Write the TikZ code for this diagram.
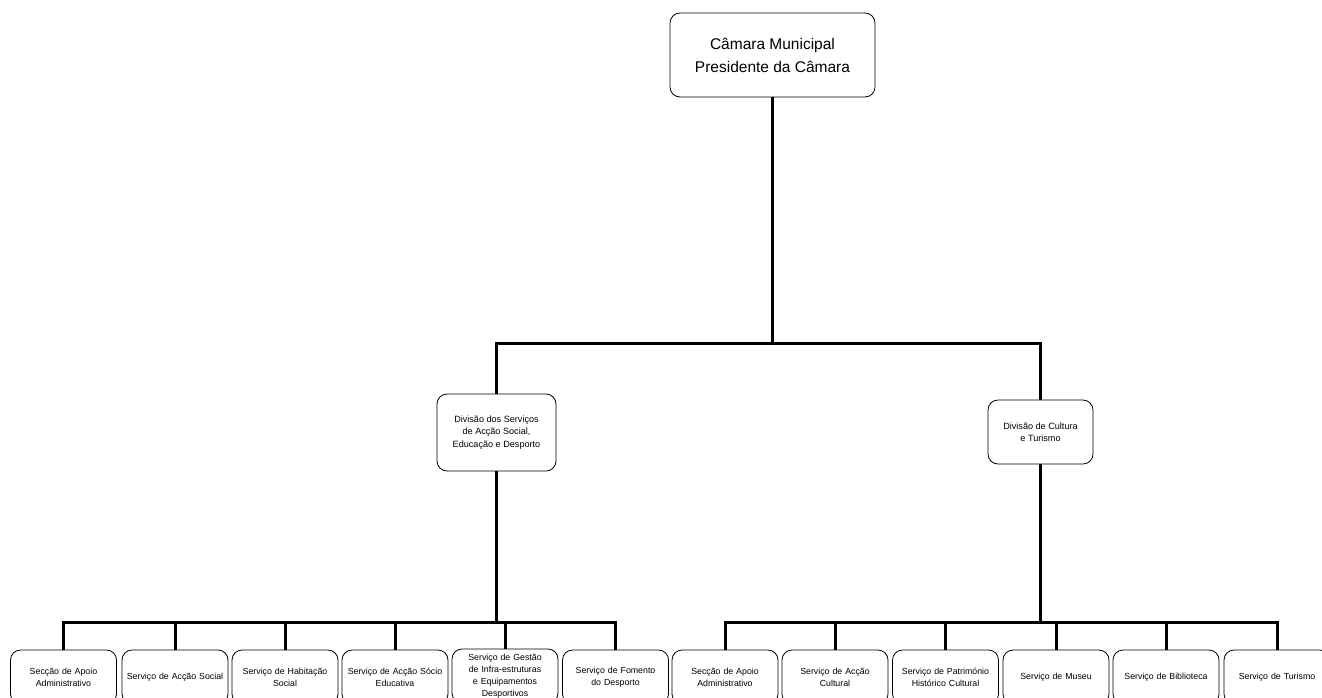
\documentclass[tikz,border=0pt]{standalone}
\usepackage{fontspec}
\setmainfont{Liberation Sans}
\begin{document}
\begin{tikzpicture}[x=1pt,y=-1pt,
  box/.style={draw=black, line width=0.8pt, rounded corners=10pt, align=center, inner sep=2pt},
  topbox/.style={box, minimum width=205pt, minimum height=84pt, font=\fontsize{15.5}{23}\selectfont},
  divbox/.style={box, font=\fontsize{9.1}{12.5}\selectfont},
  leaf/.style={box, minimum width=106pt, minimum height=54pt, text width=102pt, font=\fontsize{8.8}{12}\selectfont},
  conn/.style={draw=black, line width=3pt}]
\useasboundingbox (0,0) rectangle (1322,697);
\clip (0,0) rectangle (1322,697);

\node[topbox] (top) at (772.5,55) {Câmara Municipal\\Presidente da Câmara};
\node[divbox, minimum width=119pt, minimum height=77pt] (d1) at (496.5,432.5) {Divisão dos Serviços\\de Acção Social,\\Educação e Desporto};
\node[divbox, minimum width=105pt, minimum height=64pt] (d2) at (1040.5,432) {Divisão de Cultura\\e Turismo};

\coordinate (bus0) at (772.5,343);
\coordinate (busL) at (496.5,622);
\coordinate (busR) at (1040.5,622);

\node[leaf] (c1) at (63.5,677) {Secção de Apoio\\Administrativo};
\node[leaf] (c2) at (175,677) {Serviço de Acção Social};
\node[leaf] (c3) at (285,677) {Serviço de Habitação\\Social};
\node[leaf] (c4) at (395,677) {Serviço de Acção Sócio\\Educativa};
\node[leaf] (c5) at (505,676) {Serviço de Gestão\\de Infra-estruturas\\e Equipamentos\\Desportivos};
\node[leaf] (c6) at (615.5,677) {Serviço de Fomento\\do Desporto};

\node[leaf] (c7) at (725,677) {Secção de Apoio\\Administrativo};
\node[leaf] (c8) at (835,677) {Serviço de Acção\\Cultural};
\node[leaf] (c9) at (945.5,677) {Serviço de Património\\Histórico Cultural};
\node[leaf] (c10) at (1056,677) {Serviço de Museu};
\node[leaf] (c11) at (1166,677) {Serviço de Biblioteca};
\node[leaf] (c12) at (1277,677) {Serviço de Turismo};

\draw[conn] (top.south) -- (bus0) -| (d1.north);
\draw[conn] (bus0) -| (d2.north);
\foreach \c in {c1,c2,c3,c4,c5,c6}
  \draw[conn] (d1.south) -- (busL) -| (\c.north);
\foreach \c in {c7,c8,c9,c10,c11,c12}
  \draw[conn] (d2.south) -- (busR) -| (\c.north);
\end{tikzpicture}
\end{document}
